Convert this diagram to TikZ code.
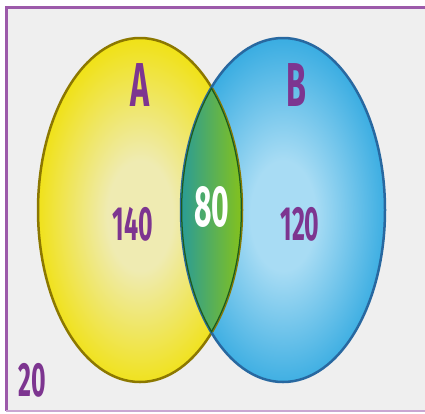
\documentclass[tikz,border=0pt]{standalone}
\usepackage{fontspec}
\usepackage{graphicx}
\setmainfont{Fira Sans}
\definecolor{lbl}{HTML}{7D3590}
\definecolor{frame}{HTML}{9C5AAA}
\definecolor{framelt}{HTML}{C9A6D2}
\definecolor{bg}{HTML}{EFEFEF}
\definecolor{yin}{HTML}{EFEBB2}
\definecolor{yout}{HTML}{F0E000}
\definecolor{ydraw}{HTML}{8C7800}
\definecolor{bin}{HTML}{A8DCF4}
\definecolor{bout}{HTML}{2AA6DF}
\definecolor{bdraw}{HTML}{2868A0}
\definecolor{gleft}{HTML}{2A9C96}
\definecolor{gright}{HTML}{84C21C}
\definecolor{gdraw}{HTML}{1E5A1E}
\pgfdeclareradialshading{yshade}{\pgfpoint{0bp}{-1bp}}{color(0bp)=(yin); color(8bp)=(yin); color(28bp)=(yout); color(50bp)=(yout)}
\pgfdeclareradialshading{bshade}{\pgfpoint{0bp}{-1bp}}{color(0bp)=(bin); color(8bp)=(bin); color(28bp)=(bout); color(50bp)=(bout)}
\newcommand\cnd[1]{\scalebox{0.52}[1]{#1}}
\tikzset{
  lab/.style={text=lbl, font=\fontsize{48}{48}\selectfont\bfseries, inner sep=0pt, anchor=center},
  setlab/.style={text=lbl, font=\fontsize{62}{62}\selectfont\bfseries, inner sep=0pt, anchor=center}
}
\begin{document}
\begin{tikzpicture}[x=1pt,y=-1pt]
\useasboundingbox (0,0) rectangle (425,413);
\fill[white] (0,0) rectangle (425,413);
\fill[bg] (6,7) rectangle (425,411);
\draw[frame, line width=3pt] (425,7) -- (6,7) -- (6,411);
\draw[framelt, line width=2pt] (6,411) -- (425,411);
% set A
\shade[shading=yshade] (140,210) ellipse [x radius=102, y radius=172];
% set B
\shade[shading=bshade] (283,210) ellipse [x radius=102, y radius=172];
\draw[ydraw, line width=2.5pt] (140,210) ellipse [x radius=102, y radius=172];
\draw[bdraw, line width=2.5pt] (283,210) ellipse [x radius=102, y radius=172];
% lens
\begin{scope}
  \clip (140,210) ellipse [x radius=102, y radius=172];
  \clip (283,210) ellipse [x radius=102, y radius=172];
  \shade[left color=gleft, right color=gright] (181,38) rectangle (242,382);
  \draw[gdraw, line width=2.5pt] (283,210) ellipse [x radius=102, y radius=172];
  \draw[gdraw, line width=2.5pt] (140,210) ellipse [x radius=102, y radius=172];
\end{scope}
\node[setlab] (A) at (140,85) {\cnd{A}};
\node[setlab] (B) at (296,85) {\cnd{B}};
\node[lab] (n140) at (133,224) {\cnd{140}};
\node[lab] (n120) at (300,224) {\cnd{120}};
\node[lab, text=white, font=\fontsize{58}{58}\selectfont\bfseries] (n80) at (212,207) {\cnd{80}};
\node[lab] (n20) at (32,380) {\cnd{20}};
\end{tikzpicture}
\end{document}
